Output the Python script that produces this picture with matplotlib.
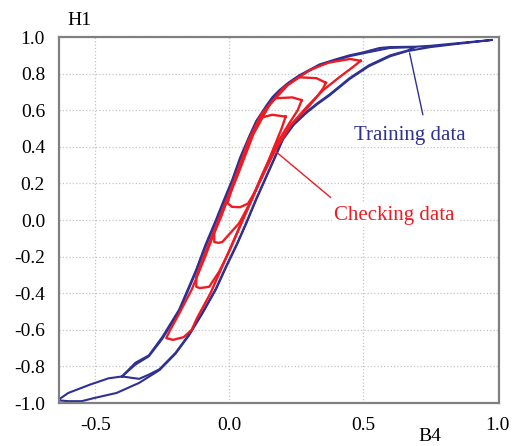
import matplotlib
matplotlib.use('Agg')
from matplotlib import pyplot as plt

plt.rcParams['font.family'] = ['Liberation Serif', 'DejaVu Serif']

# training data: outer loop (runs out to B4 ~ 1.0) and inner loop
train_outer_b4 = [-0.64, -0.60, -0.55, -0.51, -0.42, -0.336, -0.26, -0.20, -0.15, -0.10, -0.05, -0.011, 0.03, 0.063,
                  0.10, 0.138, 0.17, 0.20, 0.24, 0.287, 0.33, 0.373, 0.448, 0.52, 0.60, 0.664, 0.75, 0.847, 0.98,
                  0.85, 0.75, 0.694, 0.597, 0.56, 0.496, 0.448, 0.39, 0.336, 0.26, 0.22, 0.187, 0.16, 0.138, 0.10,
                  0.075, 0.04, 0.011, -0.02, -0.05, -0.09, -0.123, -0.187, -0.25, -0.30, -0.35, -0.40, -0.45,
                  -0.52, -0.60, -0.64]
train_outer_h1 = [-0.985, -0.99, -0.99, -0.975, -0.945, -0.89, -0.82, -0.73, -0.63, -0.51, -0.38, -0.255, -0.13, -0.02,
                  0.11, 0.235, 0.34, 0.44, 0.52, 0.585, 0.635, 0.68, 0.77, 0.84, 0.895, 0.923, 0.945, 0.962, 0.984,
                  0.966, 0.952, 0.947, 0.945, 0.94, 0.915, 0.90, 0.875, 0.85, 0.79, 0.75, 0.71, 0.67, 0.625, 0.54,
                  0.46, 0.34, 0.22, 0.11, 0.0, -0.14, -0.27, -0.49, -0.64, -0.74, -0.78, -0.855, -0.865,
                  -0.90, -0.945, -0.985]
train_inner_b4 = [-0.40, -0.336, -0.30, -0.26, -0.20, -0.15, -0.10, -0.05, -0.011, 0.03, 0.063, 0.10, 0.138, 0.17,
                  0.20, 0.24, 0.287, 0.33, 0.373, 0.448, 0.52, 0.60, 0.664, 0.694, 0.597, 0.496, 0.448, 0.39, 0.336,
                  0.26, 0.22, 0.187, 0.16, 0.138, 0.10, 0.075, 0.04, 0.011, -0.02, -0.05, -0.09, -0.123, -0.187,
                  -0.25, -0.30, -0.35, -0.40]
train_inner_h1 = [-0.855, -0.868, -0.845, -0.815, -0.725, -0.625, -0.505, -0.375, -0.25, -0.125, -0.015, 0.115, 0.24,
                  0.345, 0.445, 0.525, 0.59, 0.64, 0.685, 0.775, 0.845, 0.90, 0.926, 0.945, 0.94, 0.91, 0.895, 0.87,
                  0.845, 0.785, 0.745, 0.70, 0.66, 0.615, 0.53, 0.45, 0.33, 0.21, 0.10, -0.01, -0.15, -0.28, -0.50,
                  -0.65, -0.745, -0.79, -0.855]

# checking data: four nested minor loops
check1_b4 = [0.49, 0.45, 0.37, 0.30, 0.22, 0.15, 0.09, 0.03, -0.03, -0.09, -0.14, -0.19, -0.22, -0.235, -0.21, -0.17,
             -0.14, -0.12, -0.07, -0.01, 0.05, 0.11, 0.17, 0.23, 0.29, 0.35, 0.41, 0.46, 0.49]
check1_h1 = [0.87, 0.88, 0.86, 0.82, 0.74, 0.63, 0.47, 0.24, 0.03, -0.20, -0.38, -0.52, -0.60, -0.645, -0.655, -0.64,
             -0.60, -0.535, -0.40, -0.20, 0.0, 0.20, 0.38, 0.52, 0.62, 0.71, 0.78, 0.835, 0.87]
check2_b4 = [0.36, 0.325, 0.26, 0.20, 0.14, 0.08, 0.02, -0.04, -0.09, -0.123, -0.123, -0.11, -0.075, -0.037, 0.0, 0.05,
             0.11, 0.17, 0.23, 0.29, 0.33, 0.35, 0.36]
check2_h1 = [0.75, 0.775, 0.78, 0.72, 0.61, 0.45, 0.22, 0.0, -0.18, -0.31, -0.365, -0.372, -0.365, -0.28, -0.17, 0.0,
             0.20, 0.38, 0.52, 0.61, 0.68, 0.72, 0.75]
check3_b4 = [0.27, 0.235, 0.17, 0.12, 0.07, 0.02, -0.03, -0.056, -0.056, -0.04, -0.026, 0.037, 0.08, 0.12, 0.17, 0.22,
             0.255, 0.27]
check3_h1 = [0.655, 0.67, 0.665, 0.58, 0.43, 0.22, 0.02, -0.07, -0.12, -0.125, -0.12, -0.017, 0.10, 0.24, 0.40, 0.52,
             0.60, 0.655]
check4_b4 = [0.21, 0.16, 0.12, 0.08, 0.04, 0.01, -0.007, 0.01, 0.04, 0.07, 0.10, 0.14, 0.17, 0.195, 0.21]
check4_h1 = [0.565, 0.575, 0.56, 0.45, 0.30, 0.17, 0.093, 0.072, 0.07, 0.09, 0.165, 0.30, 0.41, 0.50, 0.565]

x_ticks = [-0.5, 0.0, 0.5, 1.0]
y_ticks = [-1.0, -0.8, -0.6, -0.4, -0.2, 0.0, 0.2, 0.4, 0.6, 0.8, 1.0]

blue = '#2e3192'
red = '#ed1c24'

fig = plt.figure(figsize=(5.17, 4.46), dpi=100)
ax = fig.add_axes([0.114, 0.0964, 0.851, 0.8206])

ax.plot(train_outer_b4, train_outer_h1, color=blue, lw=1.5, solid_joinstyle='round')
ax.plot(train_inner_b4, train_inner_h1, color=blue, lw=1.5, solid_joinstyle='round')
for xs, ys in [(check1_b4, check1_h1), (check2_b4, check2_h1), (check3_b4, check3_h1), (check4_b4, check4_h1)]:
    ax.plot(xs, ys, color=red, lw=1.7, solid_joinstyle='round')

ax.set_xlim(-0.635, 1.005)
ax.set_ylim(-1.0, 1.0)
ax.set_xticks(x_ticks)
ax.set_yticks(y_ticks)
ax.set_xticklabels(['%.1f' % v for v in x_ticks])
ax.set_yticklabels(['%.1f' % v for v in y_ticks])
ax.tick_params(length=0, labelsize=14, pad=10)
ax.grid(True, ls=':', color='#c4c4c4', lw=0.9)
ax.set_axisbelow(True)
for s in ax.spines.values():
    s.set_color('#808080')
    s.set_linewidth(1.6)

# annotations
ax.annotate('Training data', xy=(0.672, 0.913), xytext=(0.672, 0.464), color=blue, fontsize=15,
            ha='center', va='center', bbox=dict(fc='white', ec='none', pad=2),
            arrowprops=dict(arrowstyle='-', color=blue, lw=1.0, shrinkA=6, shrinkB=0, relpos=(0.64, 1.0)))
ax.annotate('Checking data', xy=(0.175, 0.372), xytext=(0.616, 0.027), color=red, fontsize=15,
            ha='center', va='center', bbox=dict(fc='white', ec='none', pad=2),
            arrowprops=dict(arrowstyle='-', color=red, lw=1.0, shrinkA=6, shrinkB=0, relpos=(0.05, 1.0)))

fig.text(0.153, 0.955, 'H1', fontsize=14, ha='center', va='center')
fig.text(0.832, 0.003, 'B4', fontsize=14, ha='center', va='bottom')

fig.savefig('out.png', dpi=100)
